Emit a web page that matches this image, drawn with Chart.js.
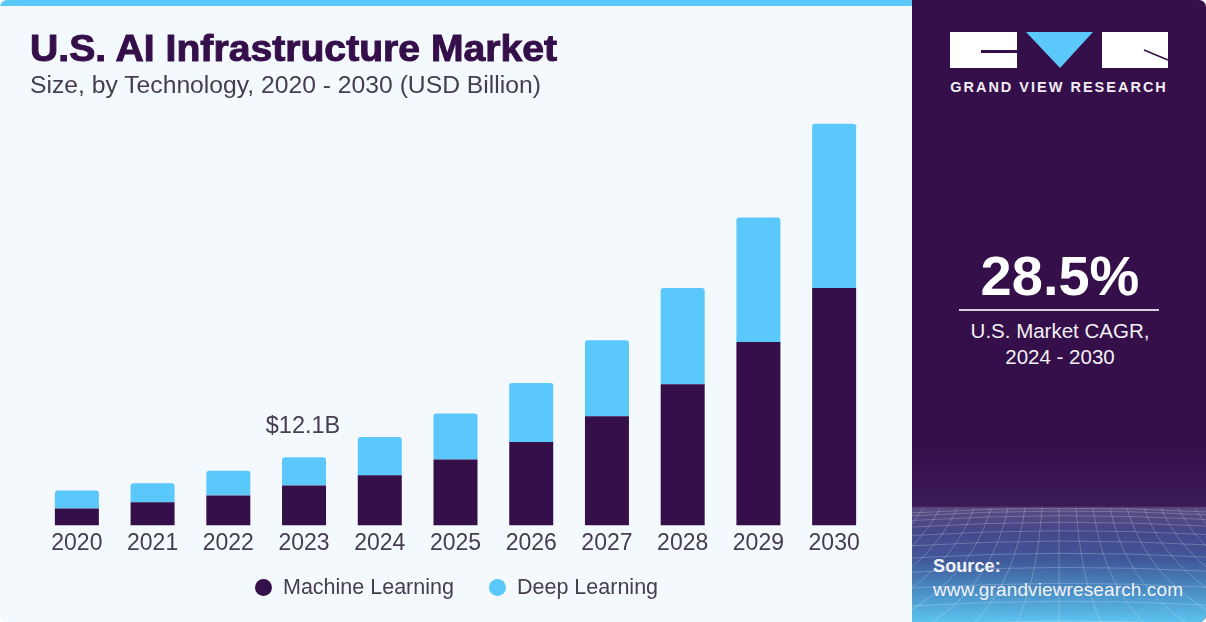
<!DOCTYPE html>
<html>
<head>
<meta charset="utf-8">
<title>U.S. AI Infrastructure Market</title>
<script src="https://cdn.jsdelivr.net/npm/chart.js@4/dist/chart.umd.min.js"></script>
<style>
    html, body { margin: 0; padding: 0; background: #fff; }
    #card { position: relative; width: 1206px; height: 622px; overflow: hidden; border-radius: 7px; background: #f4f9fd; font-family: 'Liberation Sans', sans-serif; }
    #topbar { position: absolute; left: 0; top: 0; width: 912px; height: 6px; background: #5bc8f9; }
    #chartBox { position: absolute; left: 0; top: 0; width: 912px; height: 622px; }
    #title { position: absolute; left: 30px; top: 28px; font-size: 37px; line-height: 42px; font-weight: bold; color: #350f4a; -webkit-text-stroke: 1px #350f4a; white-space: nowrap; transform-origin: left center; transform: scaleX(1.058); }
    #subtitle { position: absolute; left: 30px; top: 71px; font-size: 24.7px; line-height: 28px; color: #453d50; white-space: nowrap; }
    #legend { position: absolute; left: 0; top: 574px; height: 26px; width: 912px; }
    .legendItem { position: absolute; top: 0; font-size: 21.5px; line-height: 26px; color: #453d50; white-space: nowrap; }
    .legendDot { position: absolute; top: 5px; left: 0; width: 17px; height: 17px; border-radius: 50%; }
    #panel { position: absolute; left: 912px; top: 0; width: 294px; height: 622px; background: #350f4a; color: #fff; }
    #panelBg { position: absolute; left: 0; top: 450px; width: 294px; height: 172px; background: linear-gradient(#350f4a 0, #3b1a57 56px, #5c4a80 58px, #46478a 80px, #40589a 110px, #4a8cc4 140px, #5cc4f0 172px); }
    #mesh { position: absolute; left: 0; top: 508px; }
    #logo { position: absolute; left: 38px; top: 32px; }
    #logoText { position: absolute; left: 0; width: 294px; top: 79px; text-align: center; font-size: 14.5px; line-height: 17px; font-weight: bold; letter-spacing: 2px; color: #f0edf3; }
    #cagr { position: absolute; left: 0; width: 296px; top: 244px; text-align: center; font-size: 56px; line-height: 64px; font-weight: bold; }
    #rule { position: absolute; left: 47px; top: 309px; width: 200px; height: 2px; background: #d5cfdb; }
    #cagrText { position: absolute; left: 0; width: 296px; top: 318px; text-align: center; font-size: 20.5px; line-height: 26px; color: #f2f0f4; }
    #source { position: absolute; left: 21px; top: 555px; font-size: 19px; line-height: 23px; letter-spacing: 0.12px; color: #f2f3f8; white-space: nowrap; }
    #source b { display: block; font-size: 18px; }
</style>
</head>
<body>
<div id="card">
    <div id="chartBox"><canvas id="marketChart" width="912" height="622"></canvas></div>
    <div id="topbar"></div>
    <div id="title">U.S. AI Infrastructure Market</div>
    <div id="subtitle">Size, by Technology, 2020 - 2030 (USD Billion)</div>
    <div id="legend"></div>
    <div id="panel">
        <div id="panelBg"></div>
        <svg id="mesh" width="294" height="114"></svg>
        <svg id="logo" width="220" height="38">
            <path d="M0 0H67V18H31V21H67V36H0Z" fill="#fff"/>
            <path d="M76 0H143L110 36Z" fill="#5ac8fa"/>
            <path d="M152 0H218V36H152Z" fill="#fff"/>
            <path d="M194 18L218 28" stroke="#350f4a" stroke-width="1.5"/>
        </svg>
        <div id="logoText">GRAND VIEW RESEARCH</div>
        <div id="cagr">28.5%</div>
        <div id="rule"></div>
        <div id="cagrText">U.S. Market CAGR,<br>2024 - 2030</div>
        <div id="source"><b>Source:</b>www.grandviewresearch.com</div>
    </div>
</div>
<script>
const years = ['2020', '2021', '2022', '2023', '2024', '2025', '2026', '2027', '2028', '2029', '2030'];
const machineLearning = [3.0, 4.1, 5.3, 7.1, 8.9, 11.7, 14.8, 19.4, 25.1, 32.6, 42.2];
const deepLearning = [3.2, 3.4, 4.4, 5.0, 6.8, 8.2, 10.5, 13.5, 17.1, 22.1, 29.2];
const calloutYear = '2023';
const calloutText = '$12.1B';

// background mesh in the side panel, only decoration
const mesh = document.getElementById('mesh');
let meshPaths = '';
for (let i = -14; i <= 14; i++) {
    const x = 147 + i * 17;
    meshPaths += `<path d="M${x} 0C${x + i * 3} 40 ${x + i * 9} 80 ${147 + i * 42} 114"/>`;
}
for (let r = 1; r <= 11; r++) {
    const y = r * r * 0.94;
    meshPaths += `<path d="M0 ${y + 4}Q147 ${y - 5} 294 ${y + 3}"/>`;
}
mesh.innerHTML = `<g fill="none" stroke="rgba(255,255,255,0.22)" stroke-width="1">${meshPaths}</g>`;

// writes the total above the called out bar
const calloutPlugin = {
    id: 'callout',
    afterDatasetsDraw(chart) {
        const idx = years.indexOf(calloutYear);
        const bar = chart.getDatasetMeta(1).data[idx];
        const ctx = chart.ctx;
        ctx.save();
        ctx.font = '23.5px "Liberation Sans"';
        ctx.fillStyle = '#453d50';
        ctx.textAlign = 'center';
        ctx.textBaseline = 'middle';
        ctx.fillText(calloutText, bar.x - 1, bar.y - 31);
        ctx.restore();
    }
};

const chart = new Chart(document.getElementById('marketChart'), {
    type: 'bar',
    data: {
        labels: years,
        datasets: [
            {
                label: 'Machine Learning',
                data: machineLearning,
                backgroundColor: '#350f4a'
            },
            {
                label: 'Deep Learning',
                data: deepLearning,
                backgroundColor: '#5ac8fa',
                borderRadius: { topLeft: 3, topRight: 3 },
                borderSkipped: false
            }
        ]
    },
    options: {
        responsive: false,
        animation: false,
        layout: { padding: { left: 39, right: 40, top: 109, bottom: 61 } },
        datasets: { bar: { categoryPercentage: 1, barPercentage: 0.581 } },
        scales: {
            x: {
                stacked: true,
                grid: { display: false, drawTicks: false },
                border: { display: false },
                ticks: { color: '#453d50', font: { family: 'Liberation Sans', size: 23 }, padding: 4, maxRotation: 0 }
            },
            y: {
                stacked: true,
                display: false,
                min: 0,
                max: 74
            }
        },
        plugins: {
            tooltip: { enabled: false },
            legend: { display: false }
        }
    },
    plugins: [calloutPlugin]
});

// legend sits far from the axis with a wide gap, so it is built as html from the datasets
const legendStarts = [255, 489];
const legend = document.getElementById('legend');
chart.data.datasets.forEach((ds, i) => {
    const item = document.createElement('div');
    item.className = 'legendItem';
    item.style.left = legendStarts[i] + 'px';
    item.style.paddingLeft = '28px';
    item.innerHTML = `<span class="legendDot" style="background:${ds.backgroundColor}"></span>${ds.label}`;
    legend.appendChild(item);
});
</script>
</body>
</html>
